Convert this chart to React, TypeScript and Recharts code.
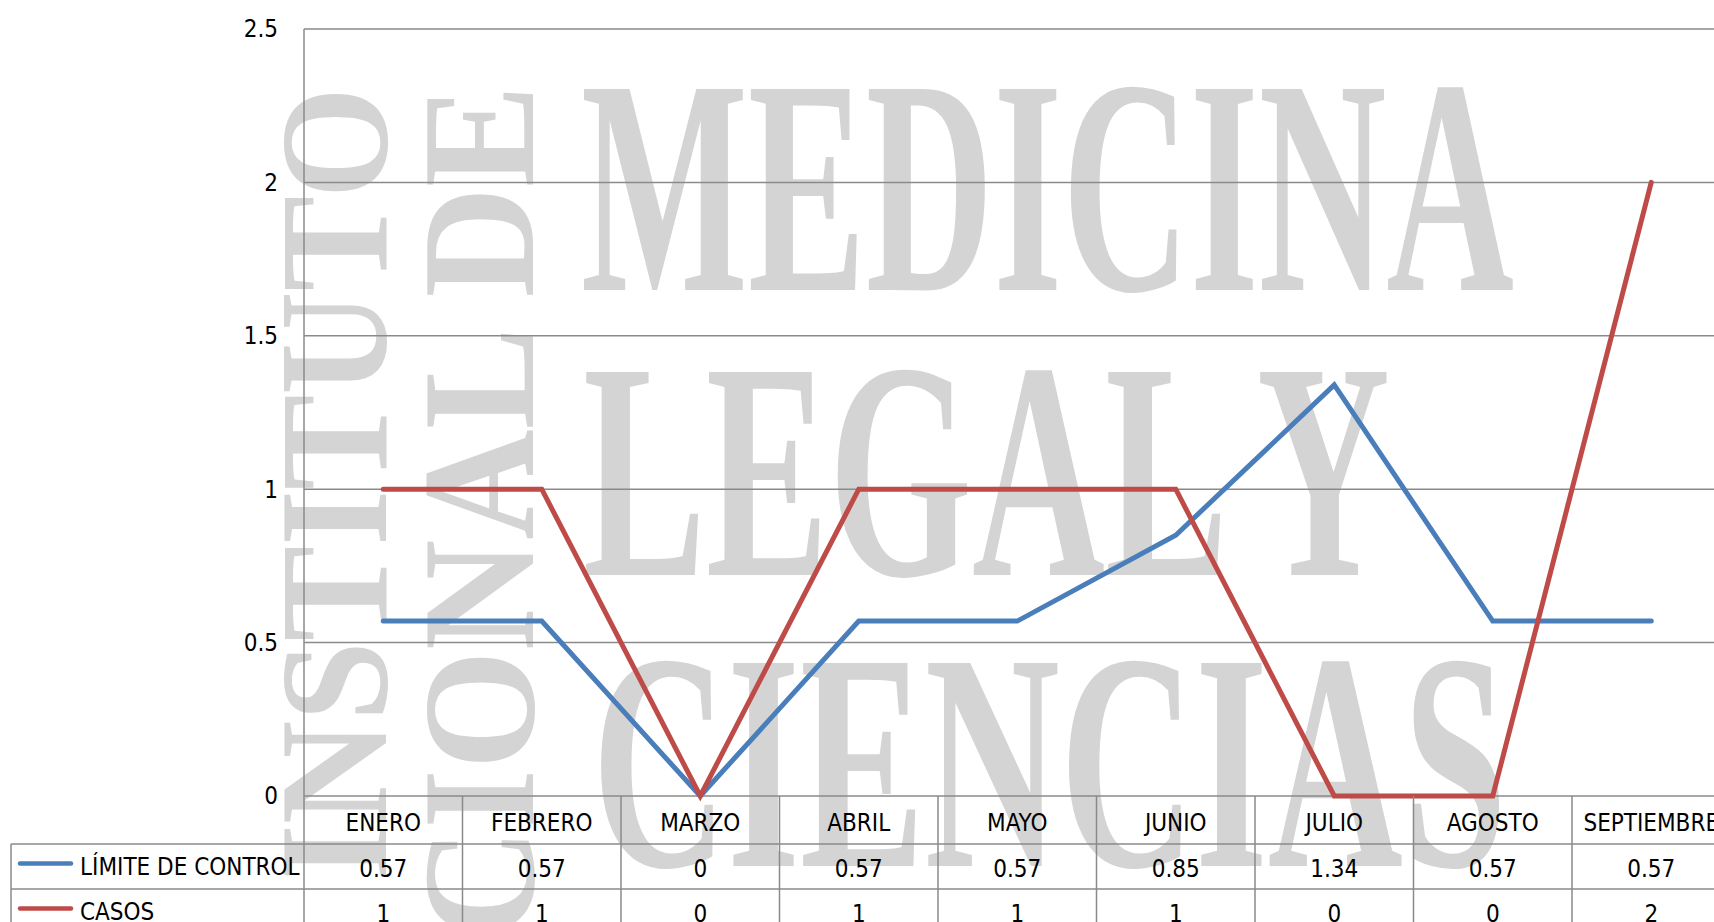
import { LineChart, Line, XAxis, YAxis, CartesianGrid, Customized } from "recharts";

const months = ["ENERO", "FEBRERO", "MARZO", "ABRIL", "MAYO", "JUNIO", "JULIO", "AGOSTO", "SEPTIEMBRE"];
const limite = [0.57, 0.57, 0, 0.57, 0.57, 0.85, 1.34, 0.57, 0.57];
const casos = [1, 1, 0, 1, 1, 1, 0, 0, 2];
const yTicks = [0, 0.5, 1, 1.5, 2, 2.5];

const seriesNames = ["LÍMITE DE CONTROL", "CASOS"];
const seriesColors = ["#4a7ebb", "#be4b48"];

const data = months.map((m, i) => ({ name: m, limite: limite[i], casos: casos[i] }));

const W = 1760;
const H = 960;
const M = { top: 29, right: 29.5, left: 0, bottom: 0 };
const Y_W = 304;
const X_H = 164;
const BAND = (W - M.right - Y_W) / months.length;
const GRID = "#8a8a8a";
const FONT = '"Liberation Sans Narrow", "Arial Narrow", "DejaVu Sans Condensed", sans-serif';
const FS = 24;
const ROW = [48, 93, 138];

function YTick(props: any) {
  const { y, payload } = props;
  return (
    <text x={278} y={y} dy="0.35em" textAnchor="end" fontFamily={FONT} fontSize={FS} fill="#000">
      {payload.value}
    </text>
  );
}

function TableTick(props: any) {
  const { x, y, payload, index } = props;
  const h = BAND / 2;
  const i = index as number;
  return (
    <g>
      <line x1={x - h} y1={y} x2={x - h} y2={y + ROW[2]} stroke={GRID} strokeWidth={1.5} />
      {i === months.length - 1 && (
        <line x1={x + h} y1={y} x2={x + h} y2={y + ROW[2]} stroke={GRID} strokeWidth={1.5} />
      )}
      {ROW.map((r) => (
        <line key={r} x1={x - h} y1={y + r} x2={x + h} y2={y + r} stroke={GRID} strokeWidth={1.5} />
      ))}
      <text x={x} y={y + 27} dy="0.35em" textAnchor="middle" fontFamily={FONT} fontSize={FS} fill="#000">
        {payload.value}
      </text>
      <text x={x} y={y + 73} dy="0.35em" textAnchor="middle" fontFamily={FONT} fontSize={FS} fill="#000">
        {limite[i]}
      </text>
      <text x={x} y={y + 118} dy="0.35em" textAnchor="middle" fontFamily={FONT} fontSize={FS} fill="#000">
        {casos[i]}
      </text>
    </g>
  );
}

function TableLegend() {
  const top = M.top + (H - M.top - X_H - M.bottom);
  return (
    <g>
      <line x1={11} y1={top + ROW[0]} x2={11} y2={top + ROW[2]} stroke={GRID} strokeWidth={1.5} />
      {ROW.map((r) => (
        <line key={r} x1={11} y1={top + r} x2={Y_W} y2={top + r} stroke={GRID} strokeWidth={1.5} />
      ))}
      {seriesNames.map((n, k) => {
        const cy = top + (ROW[k] + ROW[k + 1]) / 2;
        return (
          <g key={n}>
            <line x1={20} y1={cy - 3} x2={71} y2={cy - 3} stroke={seriesColors[k]} strokeWidth={4.5} strokeLinecap="round" />
            <text x={80} y={cy} dy="0.35em" fontFamily={FONT} fontSize={FS} fill="#000">
              {n}
            </text>
          </g>
        );
      })}
    </g>
  );
}

function Watermark() {
  const serif = '"Liberation Serif", "DejaVu Serif", serif';
  const fill = "#d5d4d4";
  const common = { fontFamily: serif, fontWeight: "bold" as const, fill, lengthAdjust: "spacingAndGlyphs" };
  return (
    <svg width={1714} height={922} style={{ position: "absolute", left: 0, top: 0 }}>
      <text x={581} y={290} fontSize={307} textLength={933} {...common}>
        MEDICINA
      </text>
      <text x={583} y={575} fontSize={310} textLength={807} {...common}>
        LEGAL Y
      </text>
      <text x={592} y={866} fontSize={310} textLength={915} {...common}>
        CIENCIAS
      </text>
      <text transform="translate(386,880) rotate(-90)" fontSize={154} textLength={793} {...common}>
        INSTITUTO
      </text>
      <text transform="translate(533,1160) rotate(-90)" fontSize={160} textLength={1075} {...common}>
        NACIONAL DE
      </text>
    </svg>
  );
}

export default function App() {
  return (
    <div style={{ position: "fixed", left: 0, top: 0, width: 1714, height: 922, overflow: "hidden", background: "#fff" }}>
      <Watermark />
      <div style={{ position: "absolute", left: 0, top: 0 }}>
        <LineChart width={W} height={H} data={data} margin={M}>
          <CartesianGrid vertical={false} stroke={GRID} strokeWidth={1.5} strokeDasharray="" />
          <XAxis
            dataKey="name"
            scale="band"
            height={X_H}
            axisLine={false}
            tickLine={false}
            tickSize={0}
            tickMargin={0}
            interval={0}
            tick={<TableTick />}
          />
          <YAxis
            type="number"
            domain={[0, 2.5]}
            ticks={yTicks}
            width={Y_W}
            axisLine={{ stroke: GRID, strokeWidth: 1.5 }}
            tickLine={false}
            tick={<YTick />}
          />
          <Line type="linear" dataKey="limite" stroke={seriesColors[0]} strokeWidth={5} dot={false} isAnimationActive={false} strokeLinecap="round" />
          <Line type="linear" dataKey="casos" stroke={seriesColors[1]} strokeWidth={5} dot={false} isAnimationActive={false} strokeLinecap="round" />
          <Customized component={TableLegend} />
        </LineChart>
      </div>
    </div>
  );
}
